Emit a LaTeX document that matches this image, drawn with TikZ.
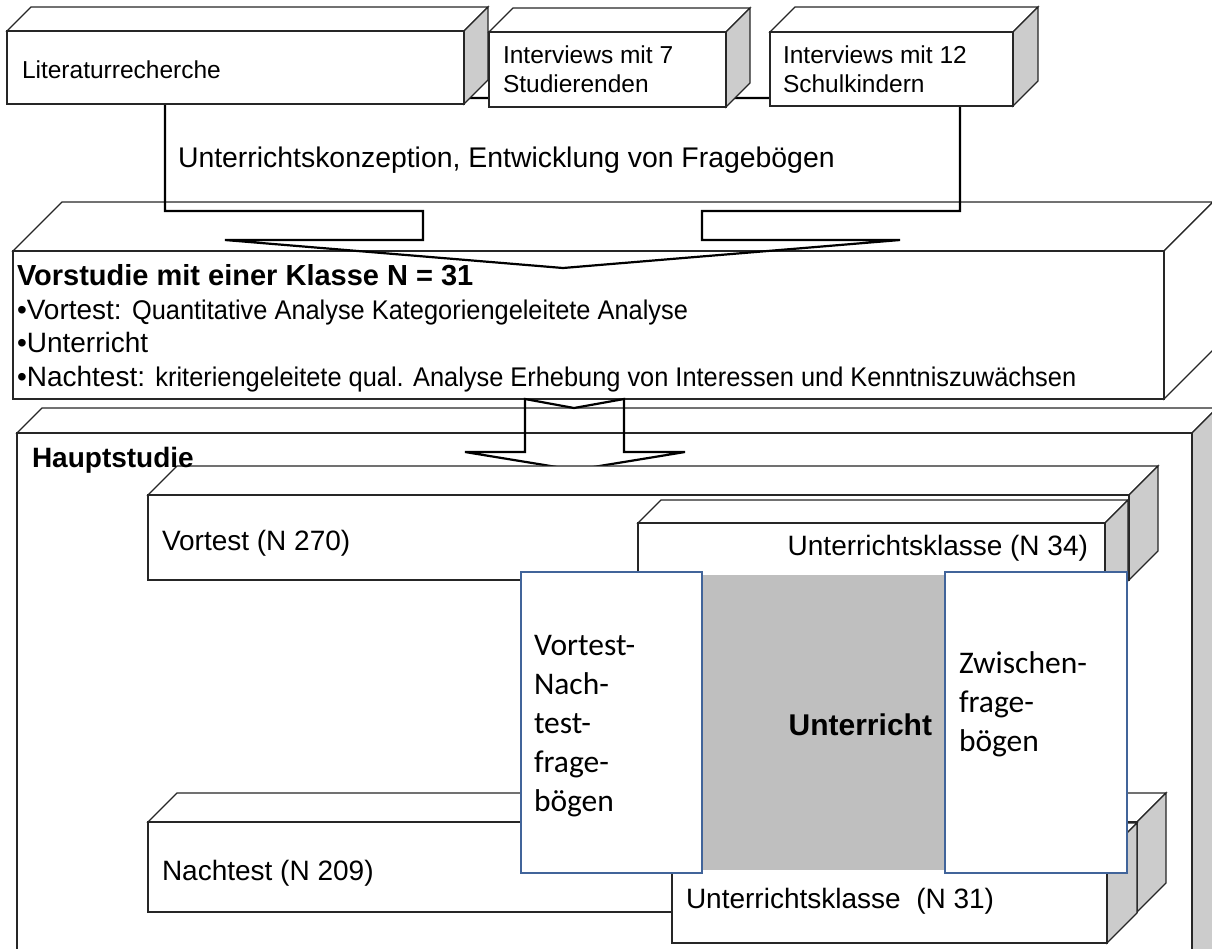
\documentclass[tikz,border=0pt]{standalone}
\usepackage{fontspec}
\setmainfont{Liberation Sans}
\newfontfamily\calfont{Carlito}
\newfontfamily\narrowfont{Liberation Sans}[FakeStretch=0.94]
\definecolor{sidegray}{HTML}{CCCCCC}
\definecolor{areagray}{HTML}{BFBFBF}
\definecolor{bluebd}{HTML}{41649A}
\tikzset{
  edge/.style={draw=black!85, line width=1.3pt},
  callout/.style={draw=black, line width=2.2pt, line join=miter},
  bluebox/.style={draw=bluebd, line width=2.8pt, fill=white},
  lab/.style={inner sep=0pt, outer sep=0pt, font=\fontsize{28}{33}\selectfont},
  smalllab/.style={inner sep=0pt, outer sep=0pt, font=\fontsize{24.5}{29}\selectfont},
  bluelab/.style={inner sep=0pt, outer sep=0pt, font=\calfont\fontsize{31.5}{39}\selectfont},
}
% front face (#1,#2)-(#3,#4), depth #5, side colour #6
\newcommand{\mycuboid}[6]{%
  \filldraw[edge,fill=white] (#1,#2) -- (#1+#5,#2-#5) -- (#3+#5,#2-#5) -- (#3,#2) -- cycle;
  \filldraw[edge,fill=#6] (#3,#2) -- (#3+#5,#2-#5) -- (#3+#5,#4-#5) -- (#3,#4) -- cycle;
  \filldraw[edge,fill=white] (#1,#2) rectangle (#3,#4);
}
\begin{document}
\begin{tikzpicture}[x=1pt,y=-1pt]
\useasboundingbox (0,0) rectangle (1212,948);
\begin{scope}
\clip (0,0) rectangle (1212,948);
% Hauptstudie
\mycuboid{17}{433}{1192}{990}{25}{sidegray}
% Vorstudie
\mycuboid{13}{251}{1164}{399}{49}{white}
% Unterrichtskonzeption callout
\draw[callout] (165,98) -- (960,98) -- (960,211) -- (702,211) -- (702,240) -- (900,240)
  -- (563,268) -- (225,240) -- (423,240) -- (423,211) -- (165,211) -- cycle;
% top boxes
\mycuboid{7}{31}{464}{104}{24}{sidegray}
\mycuboid{489}{32}{726}{107}{24}{sidegray}
\mycuboid{770}{32}{1013}{106}{25}{sidegray}
% notched arrow Vorstudie -> Hauptstudie
\draw[callout] (525,399) -- (525,452) -- (465,452) -- (575,470) -- (685,452) -- (624,452)
  -- (624,399) -- (574,408) -- cycle;
% inner boxes of Hauptstudie
\mycuboid{148}{495}{1129}{580}{29}{sidegray}
\mycuboid{638}{523}{1105}{600}{23}{sidegray}
\mycuboid{148}{822}{1137}{912}{29}{sidegray}
\mycuboid{672}{853}{1107}{943}{30}{sidegray}
\fill[areagray] (702,575) rectangle (945,870);
\filldraw[bluebox] (521,572) rectangle (702,873);
\filldraw[bluebox] (945,572) rectangle (1127,873);
\end{scope}
% texts
\node[smalllab, anchor=base west] (lit) at (22,78) {Literaturrecherche};
\node[smalllab, anchor=base west] (int7) at (503,63) {\begin{tabular}[t]{@{}l@{}}Interviews mit 7\\Studierenden\end{tabular}};
\node[smalllab, anchor=base west] (int12) at (783,63) {\begin{tabular}[t]{@{}l@{}}Interviews mit 12\\Schulkindern\end{tabular}};
\node[lab, anchor=base west, font=\fontsize{28.4}{33}\selectfont] (konz) at (178,167) {Unterrichtskonzeption, Entwicklung von Fragebögen};
\node[lab, anchor=base west, font=\bfseries\fontsize{29}{33}\selectfont] (vshead) at (17,285) {Vorstudie mit einer Klasse N = 31};
\node[lab, anchor=base west] (vs1) at (17,319) {•Vortest: {\narrowfont\fontsize{27}{30}\selectfont Quantitative Analyse Kategoriengeleitete Analyse}};
\node[lab, anchor=base west] (vs2) at (17,352) {•Unterricht};
\node[lab, anchor=base west] (vs3) at (17,386) {•Nachtest: {\narrowfont\fontsize{27}{30}\selectfont kriteriengeleitete qual. Analyse Erhebung von Interessen und Kenntniszuwächsen}};
\node[lab, anchor=base west, font=\bfseries\fontsize{28}{33}\selectfont] (haupt) at (32,467) {Hauptstudie};
\node[lab, anchor=base west] (vortestn) at (162,550) {Vortest (N 270)};
\node[lab, anchor=base east] (uk34) at (1088,555) {Unterrichtsklasse (N 34)};
\node[lab, anchor=base west] (nachn) at (162,880) {Nachtest (N 209)};
\node[lab, anchor=base west] (uk31) at (686,908) {Unterrichtsklasse~ (N 31)};
\node[lab, anchor=base east, font=\bfseries\fontsize{30}{34}\selectfont] (unt) at (932,735) {Unterricht};
\node[bluelab, anchor=base west] (vnf) at (534,655) {\begin{tabular}[t]{@{}l@{}}Vortest-\\Nach-\\test-\\frage-\\bögen\end{tabular}};
\node[bluelab, anchor=base west] (zwf) at (959,673) {\begin{tabular}[t]{@{}l@{}}Zwischen-\\frage-\\bögen\end{tabular}};
\end{tikzpicture}
\end{document}
